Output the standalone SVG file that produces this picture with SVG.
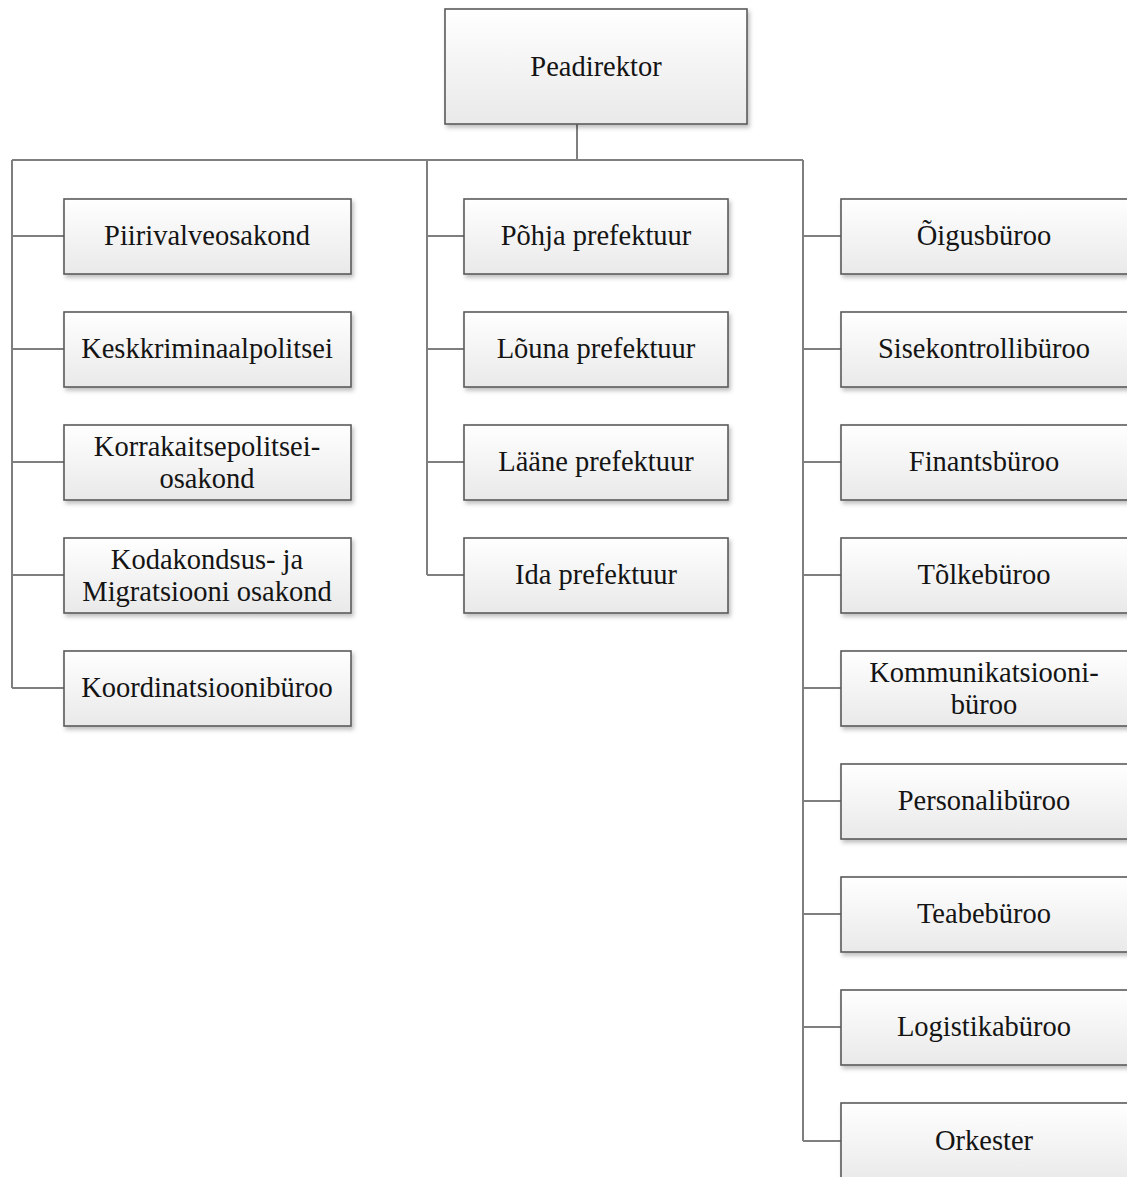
<svg xmlns="http://www.w3.org/2000/svg" width="1127" height="1177" viewBox="0 0 1127 1177">
  <style>
    .box { fill: url(#boxfill); stroke: #5b5b5b; stroke-width: 1.6; filter: url(#shadow); }
    .lbl { font-family: "Liberation Serif", "Times New Roman", serif; font-size: 28.5px; fill: #141414; text-anchor: middle; }
    .wire { fill: none; stroke: #7f7f7f; stroke-width: 2; }
  </style>
  <defs>
    <linearGradient id="boxfill" x1="0" y1="0" x2="0" y2="1">
      <stop offset="0" stop-color="#ffffff"/>
      <stop offset="1" stop-color="#e9e9e9"/>
    </linearGradient>
    <filter id="shadow" x="-5%" y="-5%" width="115%" height="125%">
      <feDropShadow dx="2" dy="3" stdDeviation="2" flood-color="#000" flood-opacity="0.25"/>
    </filter>
  </defs>
  <rect width="1127" height="1177" fill="#ffffff"/>

  <!-- connectors -->
  <g id="connectors">
    <path class="wire" d="M577 124 V160 M12 160 H803"/>
    <!-- left column -->
    <path class="wire" d="M12 160 V688 M12 236 H64 M12 349 H64 M12 462 H64 M12 575 H64 M12 688 H64"/>
    <!-- middle column -->
    <path class="wire" d="M427 160 V575 M427 236 H464 M427 349 H464 M427 462 H464 M427 575 H464"/>
    <!-- right column -->
    <path class="wire" d="M803 160 V1141 M803 236 H841 M803 349 H841 M803 462 H841 M803 575 H841 M803 688 H841 M803 801 H841 M803 914 H841 M803 1027 H841 M803 1141 H841"/>
  </g>

  <!-- top -->
  <g id="peadirektor">
    <rect class="box" x="445" y="9" width="302" height="115"/>
    <text class="lbl" x="596" y="76">Peadirektor</text>
  </g>

  <!-- left column -->
  <g id="piirivalveosakond">
    <rect class="box" x="64" y="199" width="287" height="75"/>
    <text class="lbl" x="207" y="245">Piirivalveosakond</text>
  </g>
  <g id="keskkriminaalpolitsei">
    <rect class="box" x="64" y="312" width="287" height="75"/>
    <text class="lbl" x="207" y="358">Keskkriminaalpolitsei</text>
  </g>
  <g id="korrakaitsepolitseiosakond">
    <rect class="box" x="64" y="425" width="287" height="75"/>
    <text class="lbl" x="207" y="456">Korrakaitsepolitsei-</text>
    <text class="lbl" x="207" y="488">osakond</text>
  </g>
  <g id="kodakondsus">
    <rect class="box" x="64" y="538" width="287" height="75"/>
    <text class="lbl" x="207" y="569">Kodakondsus- ja</text>
    <text class="lbl" x="207" y="601">Migratsiooni osakond</text>
  </g>
  <g id="koordinatsioonibyroo">
    <rect class="box" x="64" y="651" width="287" height="75"/>
    <text class="lbl" x="207" y="697">Koordinatsioonibüroo</text>
  </g>

  <!-- middle column -->
  <g id="pohja">
    <rect class="box" x="464" y="199" width="264" height="75"/>
    <text class="lbl" x="596" y="245">Põhja prefektuur</text>
  </g>
  <g id="louna">
    <rect class="box" x="464" y="312" width="264" height="75"/>
    <text class="lbl" x="596" y="358">Lõuna prefektuur</text>
  </g>
  <g id="laane">
    <rect class="box" x="464" y="425" width="264" height="75"/>
    <text class="lbl" x="596" y="471">Lääne prefektuur</text>
  </g>
  <g id="ida">
    <rect class="box" x="464" y="538" width="264" height="75"/>
    <text class="lbl" x="596" y="584">Ida prefektuur</text>
  </g>

  <!-- right column -->
  <g id="oigusbyroo">
    <rect class="box" x="841" y="199" width="287" height="75"/>
    <text class="lbl" x="984" y="245">Õigusbüroo</text>
  </g>
  <g id="sisekontrollibyroo">
    <rect class="box" x="841" y="312" width="287" height="75"/>
    <text class="lbl" x="984" y="358">Sisekontrollibüroo</text>
  </g>
  <g id="finantsbyroo">
    <rect class="box" x="841" y="425" width="287" height="75"/>
    <text class="lbl" x="984" y="471">Finantsbüroo</text>
  </g>
  <g id="tolkebyroo">
    <rect class="box" x="841" y="538" width="287" height="75"/>
    <text class="lbl" x="984" y="584">Tõlkebüroo</text>
  </g>
  <g id="kommunikatsioonibyroo">
    <rect class="box" x="841" y="651" width="287" height="75"/>
    <text class="lbl" x="984" y="682">Kommunikatsiooni-</text>
    <text class="lbl" x="984" y="714">büroo</text>
  </g>
  <g id="personalibyroo">
    <rect class="box" x="841" y="764" width="287" height="75"/>
    <text class="lbl" x="984" y="810">Personalibüroo</text>
  </g>
  <g id="teabebyroo">
    <rect class="box" x="841" y="877" width="287" height="75"/>
    <text class="lbl" x="984" y="923">Teabebüroo</text>
  </g>
  <g id="logistikabyroo">
    <rect class="box" x="841" y="990" width="287" height="75"/>
    <text class="lbl" x="984" y="1036">Logistikabüroo</text>
  </g>
  <g id="orkester">
    <rect class="box" x="841" y="1103" width="287" height="80"/>
    <text class="lbl" x="984" y="1150">Orkester</text>
  </g>
</svg>
